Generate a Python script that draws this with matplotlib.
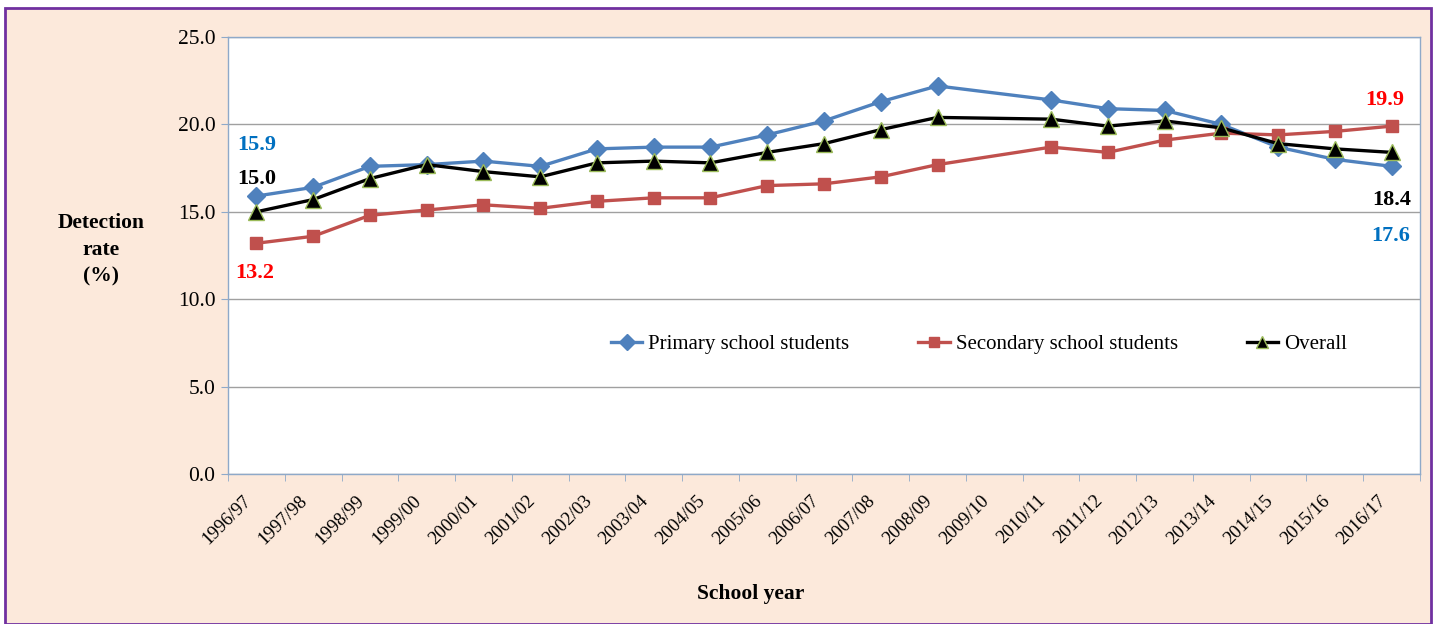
import matplotlib.pyplot as plt
import matplotlib.transforms as mtransforms
from matplotlib.patches import Rectangle

plt.rcParams['font.family'] = ['Liberation Serif', 'DejaVu Serif']

# school years on the axis (2009/10 has no survey data)
years = ["1996/97", "1997/98", "1998/99", "1999/00", "2000/01", "2001/02", "2002/03",
         "2003/04", "2004/05", "2005/06", "2006/07", "2007/08", "2008/09", "2009/10",
         "2010/11", "2011/12", "2012/13", "2013/14", "2014/15", "2015/16", "2016/17"]
data_years = [y for y in years if y != "2009/10"]

primary = [15.9, 16.4, 17.6, 17.7, 17.9, 17.6, 18.6, 18.7, 18.7, 19.4, 20.2, 21.3, 22.2,
           21.4, 20.9, 20.8, 20.0, 18.7, 18.0, 17.6]
secondary = [13.2, 13.6, 14.8, 15.1, 15.4, 15.2, 15.6, 15.8, 15.8, 16.5, 16.6, 17.0, 17.7,
             18.7, 18.4, 19.1, 19.5, 19.4, 19.6, 19.9]
overall = [15.0, 15.7, 16.9, 17.7, 17.3, 17.0, 17.8, 17.9, 17.8, 18.4, 18.9, 19.7, 20.4,
           20.3, 19.9, 20.2, 19.8, 18.9, 18.6, 18.4]

xpos = [years.index(y) for y in data_years]

fig = plt.figure(figsize=(14.36, 6.24), dpi=100, facecolor='white')
fig.patches.append(Rectangle((5 / 1436, 0), 1426 / 1436, 1 - 8 / 624, transform=fig.transFigure,
                             facecolor='#FCE9DB', edgecolor='#7030A0', linewidth=2, zorder=-1))

ax = fig.add_axes([228 / 1436, 1 - 474 / 624, 1192 / 1436, 437 / 624])
ax.set_facecolor('white')

ax.plot(xpos, primary, color='#4F81BD', lw=2.4, marker='D', ms=9.5, mec='#4F81BD',
        label='Primary school students', zorder=3)
ax.plot(xpos, secondary, color='#C0504D', lw=2.4, marker='s', ms=8, mec='#C0504D',
        label='Secondary school students', zorder=3)
ax.plot(xpos, overall, color='black', lw=2.4, marker='^', ms=11, mec='#9BBB59', mew=1,
        label='Overall', zorder=4)

ax.set_xlim(-0.5, len(years) - 0.5)
ax.set_ylim(0, 25)
ax.set_yticks([0, 5, 10, 15, 20, 25])
ax.set_yticklabels([f"{v:.1f}" for v in [0, 5, 10, 15, 20, 25]], fontsize=15.5)
ax.yaxis.grid(True, color='#A0A0A0', lw=1)
ax.set_axisbelow(True)

ax.set_xticks(range(len(years)))
ax.set_xticklabels(years, rotation=45, ha='right', va='top', rotation_mode='anchor', fontsize=13.5)
ax.tick_params(axis='x', which='major', length=0, pad=13)
shift = mtransforms.ScaledTranslation(-14 / 100, 0, fig.dpi_scale_trans)
for lbl in ax.get_xticklabels():
    lbl.set_transform(lbl.get_transform() + shift)
ax.set_xticks([i - 0.5 for i in range(len(years) + 1)], minor=True)
ax.tick_params(axis='x', which='minor', length=5, color='#8EA9C9', direction='out')
ax.tick_params(axis='y', length=5, color='#8EA9C9', pad=4)

for s in ax.spines.values():
    s.set_color('#8EA9C9')
    s.set_linewidth(1)

fig.text(751 / 1436, 1 - 594 / 624, 'School year', fontsize=15.5, fontweight='bold',
         ha='center', va='center')
fig.text(101 / 1436, 1 - 250 / 624, 'Detection\nrate\n(%)', fontsize=15.5, fontweight='bold',
         ha='center', va='center', linespacing=1.45)

# end-point labels
lab = dict(fontsize=16, fontweight='bold', ha='center', va='center')
ax.text(0, 18.8, f"{primary[0]:.1f}", color='#0070C0', **lab)
ax.text(0, 16.9, f"{overall[0]:.1f}", color='black', **lab)
ax.text(-0.03, 11.5, f"{secondary[0]:.1f}", color='#FF0000', **lab)
ax.text(19.88, 21.4, f"{secondary[-1]:.1f}", color='#FF0000', **lab)
ax.text(20.01, 15.7, f"{overall[-1]:.1f}", color='black', **lab)
ax.text(19.99, 13.6, f"{primary[-1]:.1f}", color='#0070C0', **lab)

ax.legend(loc='center', bbox_to_anchor=(0.63, 0.297), ncol=3, frameon=False, fontsize=15,
          handlelength=1.5, handletextpad=0.3, columnspacing=3.3, markerscale=0.85)

fig.savefig('out.png', dpi=100, facecolor=fig.get_facecolor())
